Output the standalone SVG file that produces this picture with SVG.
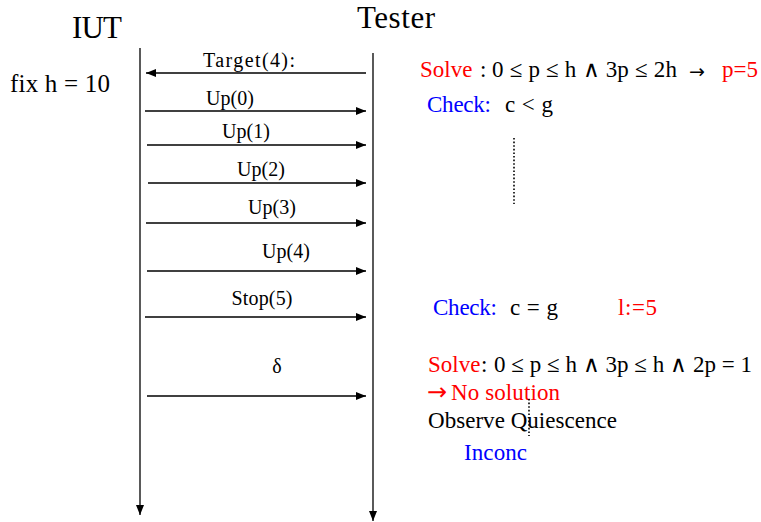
<svg xmlns="http://www.w3.org/2000/svg" width="761" height="522" viewBox="0 0 761 522">
<style>
text{font-family:"Liberation Serif","Times New Roman",serif;fill:#000}
.h{font-size:31px}
.lbl{font-size:20px;text-anchor:middle}
.t{font-size:23px}
.red{fill:#ff0000}
.blue{fill:#0000ff}
.arr{font-family:"DejaVu Sans",sans-serif}
.ln{stroke:#000;stroke-width:1.3;fill:none}
.dot{stroke:#000;stroke-width:1.6;stroke-dasharray:1.6 2;fill:none}
</style>
<defs>
<marker id="ah" viewBox="0 0 10 8" refX="10" refY="4" markerWidth="10" markerHeight="8" markerUnits="userSpaceOnUse" orient="auto">
<path d="M0,0 L10,4 L0,8 Z" fill="#000"/>
</marker>
</defs>
<rect width="761" height="522" fill="#fff"/>
<g id="iut">
<text class="h" x="72" y="38" textLength="50">IUT</text>
<text x="10" y="92" style="font-size:25px" textLength="100">fix h = 10</text>
</g>
<g id="tester">
<text class="h" x="357" y="28" textLength="78">Tester</text>
</g>
<g id="connectors">
<line class="ln" x1="140" y1="48" x2="140" y2="515" marker-end="url(#ah)"/>
<line class="ln" x1="373" y1="53" x2="373" y2="521" marker-end="url(#ah)"/>
<line class="ln" x1="366" y1="73" x2="146" y2="73" marker-end="url(#ah)"/>
<line class="ln" x1="145" y1="111" x2="366" y2="111" marker-end="url(#ah)"/>
<line class="ln" x1="147" y1="145" x2="366" y2="145" marker-end="url(#ah)"/>
<line class="ln" x1="148" y1="183" x2="366" y2="183" marker-end="url(#ah)"/>
<line class="ln" x1="146" y1="223" x2="366" y2="223" marker-end="url(#ah)"/>
<line class="ln" x1="147" y1="271" x2="366" y2="271" marker-end="url(#ah)"/>
<line class="ln" x1="145" y1="317" x2="366" y2="317" marker-end="url(#ah)"/>
<line class="ln" x1="147" y1="396" x2="366" y2="396" marker-end="url(#ah)"/>
</g>
<g id="labels">
<text class="lbl" x="249" y="67" textLength="92">Target(4):</text>
<text class="lbl" x="230" y="105">Up(0)</text>
<text class="lbl" x="246" y="138">Up(1)</text>
<text class="lbl" x="261" y="176">Up(2)</text>
<text class="lbl" x="272" y="214">Up(3)</text>
<text class="lbl" x="286" y="258">Up(4)</text>
<text class="lbl" x="262" y="305" textLength="61">Stop(5)</text>
<text class="lbl" x="277" y="373">δ</text>
</g>
<g id="notes">
<text class="t red" x="420" y="77">Solve</text>
<text class="t" x="480" y="77">:</text>
<text class="t" x="492" y="77" textLength="185">0 ≤ p ≤ h ∧ 3p ≤ 2h</text>
<text class="arr" x="689" y="78" style="font-size:19px">→</text>
<text class="t red" x="722" y="77" textLength="36">p=5</text>
<text class="t blue" x="427" y="112" textLength="64">Check:</text>
<text class="t" x="505" y="112" textLength="48">c &lt; g</text>
<line class="dot" x1="514" y1="138" x2="514" y2="204"/>
<text class="t blue" x="433" y="315" textLength="64">Check:</text>
<text class="t" x="510" y="315" textLength="48">c = g</text>
<text class="t red" x="618" y="315" textLength="39">l:=5</text>
<text class="t red" x="428" y="372">Solve</text>
<text class="t" x="481" y="372">:</text>
<text class="t" x="494" y="372" textLength="258">0 ≤ p ≤ h ∧  3p ≤ h ∧  2p = 1</text>
<text class="arr red" x="427" y="400" style="font-size:24px">→</text>
<text class="t red" x="451" y="400" textLength="109">No solution</text>
<line class="dot" x1="529" y1="399" x2="529" y2="436"/>
<text class="t" x="428" y="428" textLength="189">Observe Quiescence</text>
<text class="t blue" x="464" y="460" textLength="63">Inconc</text>
</g>
</svg>
